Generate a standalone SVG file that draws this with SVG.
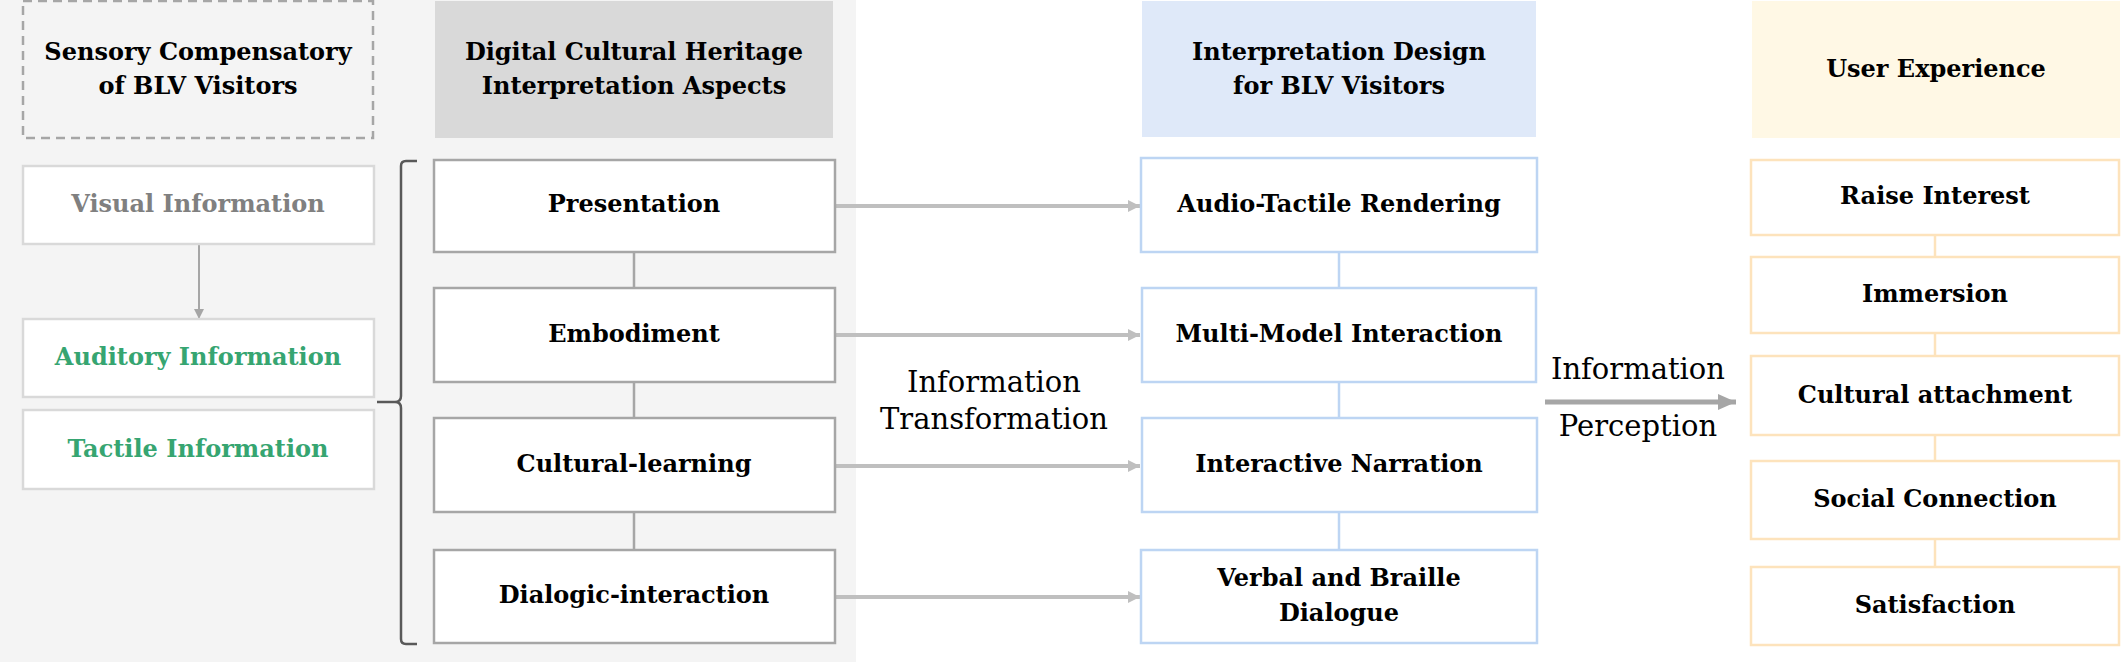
<svg xmlns="http://www.w3.org/2000/svg" width="2121" height="662" viewBox="0 0 2121 662">
<defs>
<style>
text{font-family:"DejaVu Serif","Liberation Serif",serif;font-size:24px;font-weight:bold;text-anchor:middle;fill:#000}
.reg{font-weight:normal;font-size:29px}
.box{fill:#fff;stroke-width:2.5}
.g{stroke:#a6a6a6}
.lg{stroke:#d9d9d9}
.b{stroke:#bdd5f3}
.o{stroke:#fde3bc}
.green{fill:#36a571}
.grey{fill:#808080}
</style>
<marker id="ah" markerWidth="12" markerHeight="12" refX="12" refY="6" orient="auto" markerUnits="userSpaceOnUse"><path d="M0,0L12,6L0,12Z" fill="#bfbfbf"/></marker>
<marker id="ah2" markerWidth="18" markerHeight="16" refX="18" refY="8" orient="auto" markerUnits="userSpaceOnUse"><path d="M0,0L18,8L0,16Z" fill="#a6a6a6"/></marker>
<marker id="ah3" markerWidth="10" markerHeight="10" refX="10" refY="5" orient="auto" markerUnits="userSpaceOnUse"><path d="M0,0L10,5L0,10Z" fill="#a6a6a6"/></marker>
</defs>
<rect x="0" y="0" width="856" height="662" fill="#f4f4f4"/>

<g id="connectors">
<line x1="199" y1="244" x2="199" y2="319" stroke="#a6a6a6" stroke-width="2" marker-end="url(#ah3)"/>
<path d="M417,161 H406 Q401,161 401,166 V396 Q401,402 395,402 H377 M395,402 Q401,402 401,408 V639 Q401,644 406,644 H417" fill="none" stroke="#595959" stroke-width="2.5"/>
<g stroke="#a6a6a6" stroke-width="2.5">
<line x1="634" y1="252" x2="634" y2="288"/>
<line x1="634" y1="382" x2="634" y2="418"/>
<line x1="634" y1="512" x2="634" y2="550"/>
</g>
<g stroke="#bdd5f3" stroke-width="2.5">
<line x1="1339" y1="252" x2="1339" y2="288"/>
<line x1="1339" y1="382" x2="1339" y2="418"/>
<line x1="1339" y1="512" x2="1339" y2="550"/>
</g>
<g stroke="#fde3bc" stroke-width="2.5">
<line x1="1935" y1="235" x2="1935" y2="257"/>
<line x1="1935" y1="333" x2="1935" y2="356"/>
<line x1="1935" y1="435" x2="1935" y2="461"/>
<line x1="1935" y1="539" x2="1935" y2="567"/>
</g>
<g stroke="#bfbfbf" stroke-width="4">
<line x1="836" y1="206" x2="1140" y2="206" marker-end="url(#ah)"/>
<line x1="836" y1="335" x2="1140" y2="335" marker-end="url(#ah)"/>
<line x1="836" y1="466" x2="1140" y2="466" marker-end="url(#ah)"/>
<line x1="836" y1="597" x2="1140" y2="597" marker-end="url(#ah)"/>
</g>
<line x1="1545" y1="402" x2="1736" y2="402" stroke="#a6a6a6" stroke-width="5" marker-end="url(#ah2)"/>
<text class="reg" x="994" y="392">Information</text>
<text class="reg" x="994" y="429">Transformation</text>
<text class="reg" x="1638" y="379">Information</text>
<text class="reg" x="1638" y="436">Perception</text>
</g>

<g id="h-sensory">
<rect x="23" y="1" width="350" height="137" fill="#f4f4f4" stroke="#a6a6a6" stroke-width="2.5" stroke-dasharray="9,6"/>
<text x="198" y="60">Sensory Compensatory</text>
<text x="198" y="94">of BLV Visitors</text>
</g>
<g id="h-digital">
<rect x="435" y="1" width="398" height="137" fill="#d9d9d9"/>
<text x="634" y="60">Digital Cultural Heritage</text>
<text x="634" y="94">Interpretation Aspects</text>
</g>
<g id="h-design">
<rect x="1142" y="1" width="394" height="136" fill="#dfe9f9"/>
<text x="1339" y="60">Interpretation Design</text>
<text x="1339" y="94">for BLV Visitors</text>
</g>
<g id="h-ux">
<rect x="1752" y="1" width="368" height="137" fill="#fff8e5"/>
<text x="1936" y="77">User Experience</text>
</g>

<g id="visual"><rect class="box lg" x="23" y="166" width="351" height="78"/><text class="grey" x="198" y="212">Visual Information</text></g>
<g id="auditory"><rect class="box lg" x="23" y="319" width="351" height="78"/><text class="green" x="198" y="365">Auditory Information</text></g>
<g id="tactile"><rect class="box lg" x="23" y="410" width="351" height="79"/><text class="green" x="198" y="457">Tactile Information</text></g>

<g id="presentation"><rect class="box g" x="434" y="160" width="401" height="92"/><text x="634" y="212">Presentation</text></g>
<g id="embodiment"><rect class="box g" x="434" y="288" width="401" height="94"/><text x="634" y="342">Embodiment</text></g>
<g id="cultural-learning"><rect class="box g" x="434" y="418" width="401" height="94"/><text x="634" y="472">Cultural-learning</text></g>
<g id="dialogic"><rect class="box g" x="434" y="550" width="401" height="93"/><text x="634" y="603">Dialogic-interaction</text></g>

<g id="audio-tactile"><rect class="box b" x="1141" y="158" width="396" height="94"/><text x="1339" y="212">Audio-Tactile Rendering</text></g>
<g id="multi-model"><rect class="box b" x="1142" y="288" width="394" height="94"/><text x="1339" y="342">Multi-Model Interaction</text></g>
<g id="narration"><rect class="box b" x="1142" y="418" width="395" height="94"/><text x="1339" y="472">Interactive Narration</text></g>
<g id="verbal"><rect class="box b" x="1141" y="550" width="396" height="93"/><text x="1339" y="586">Verbal and Braille</text><text x="1339" y="621">Dialogue</text></g>

<g id="raise"><rect class="box o" x="1751" y="160" width="368" height="75"/><text x="1935" y="204">Raise Interest</text></g>
<g id="immersion"><rect class="box o" x="1751" y="257" width="368" height="76"/><text x="1935" y="302">Immersion</text></g>
<g id="attachment"><rect class="box o" x="1751" y="356" width="368" height="79"/><text x="1935" y="403">Cultural attachment</text></g>
<g id="social"><rect class="box o" x="1751" y="461" width="368" height="78"/><text x="1935" y="507">Social Connection</text></g>
<g id="satisfaction"><rect class="box o" x="1751" y="567" width="368" height="78"/><text x="1935" y="613">Satisfaction</text></g>
</svg>
